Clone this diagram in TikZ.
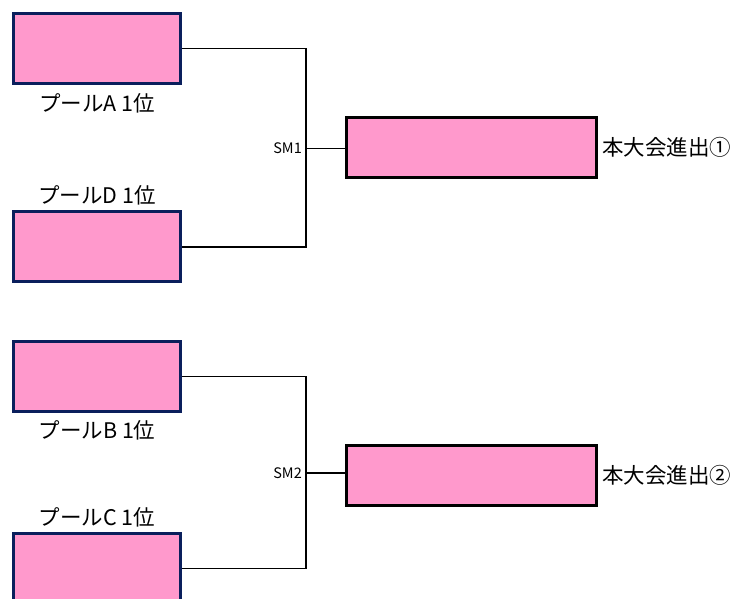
\documentclass[tikz,border=0pt]{standalone}
\usepackage{fontspec}
\setmainfont{Noto Sans CJK JP}
\usepackage{xcolor}
\usetikzlibrary{positioning, calc}
\definecolor{poolpink}{HTML}{FF99CC}
\definecolor{poolnavy}{HTML}{0A1F5C}

\begin{document}
\begin{tikzpicture}[x=1pt, y=-1pt,
    poolbox/.style={draw=poolnavy, fill=poolpink, line width=3pt, inner sep=0pt,
                    minimum width=167pt, minimum height=70pt},
    winbox/.style={draw=black, fill=poolpink, line width=3.4pt, inner sep=0pt,
                   minimum width=250pt, minimum height=60pt},
    poollabel/.style={inner sep=0pt, font=\fontsize{21.5}{24}\selectfont},
    smlabel/.style={inner sep=0pt, font=\fontsize{14.5}{16}\selectfont},
    bracket/.style={line width=1.6pt}]
    \useasboundingbox (0,0) rectangle (740,599);
    \clip (0,0) rectangle (740,599);

    % Pool winners (name/box y/label y/text)
    \foreach \name/\y/\ly/\txt in {
        A/48.5/103/プールA\ 1位,
        D/247/195/プールD\ 1位,
        B/376.5/430/プールB\ 1位,
        C/568.5/517/プールC\ 1位
    } {
        \node[poolbox] (\name) at (97,\y) {};
        \node[poollabel] (\name lbl) at (97,\ly) {\txt};
    }

    % Semi-final brackets
    \coordinate (J1) at (306,148.5);
    \coordinate (J2) at (306,473);
    \node[winbox] (W1) at (471.5,147.5) {};
    \node[winbox] (W2) at (471.5,475.5) {};

    \draw[bracket] (A.east) -| (J1) |- (D.east);
    \draw[bracket] (B.east) -| (J2) |- (C.east);
    \draw[bracket] (J1) -- (J1 -| W1.west);
    \draw[bracket] (J2) -- (J2 -| W2.west);

    \node[smlabel, left=4pt of J1] (SM1) {SM1};
    \node[smlabel, left=4pt of J2] (SM2) {SM2};

    \node[poollabel, right=4pt of W1] (W1lbl) {本大会進出①};
    \node[poollabel, right=4pt of W2] (W2lbl) {本大会進出②};
\end{tikzpicture}
\end{document}
